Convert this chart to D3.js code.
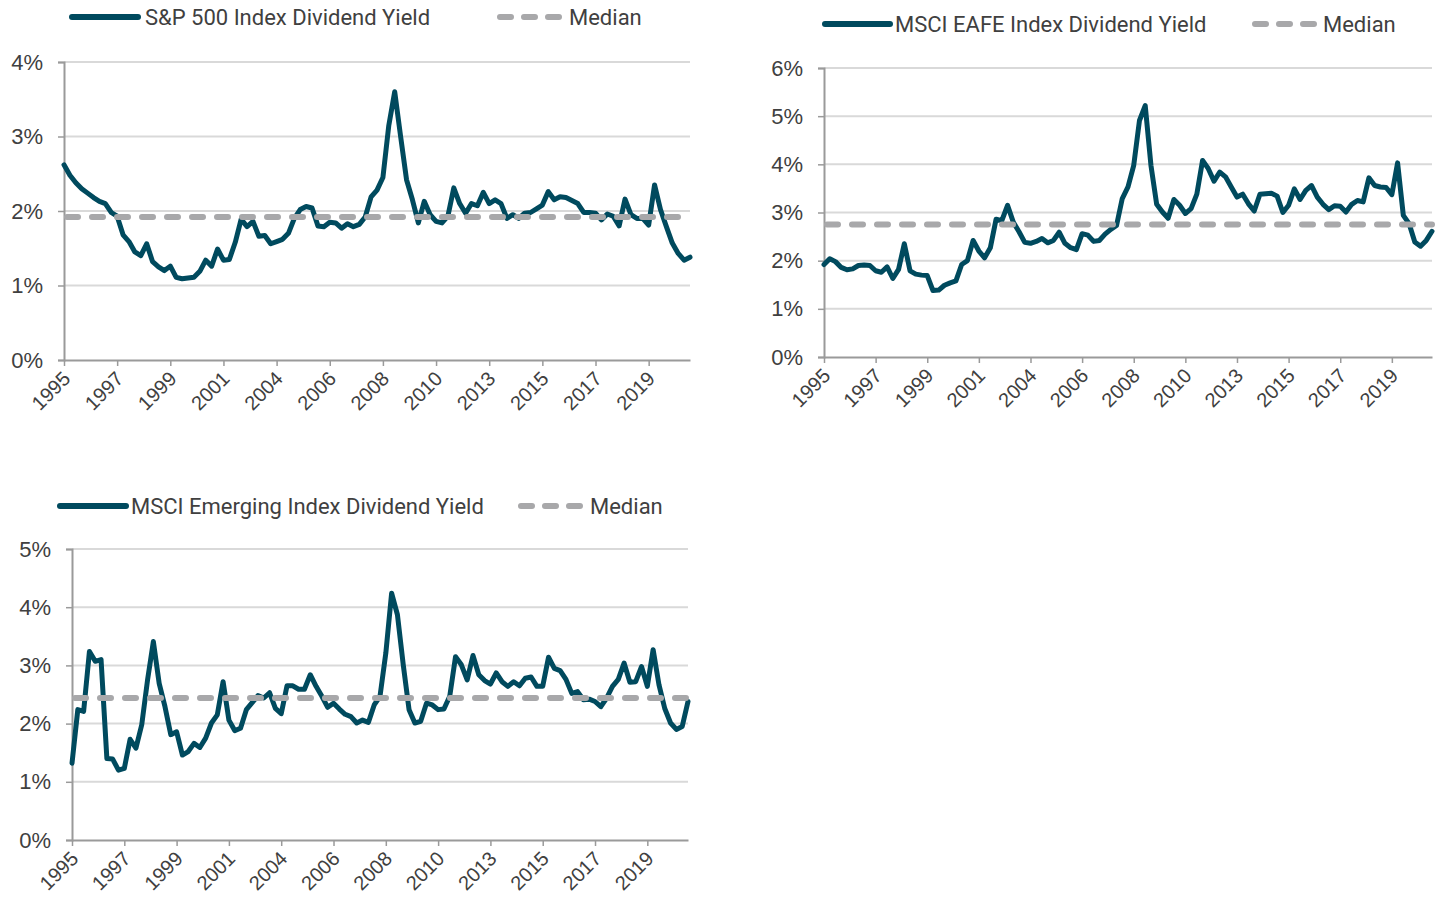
<!DOCTYPE html>
<html><head><meta charset="utf-8">
<script src="https://cdn.jsdelivr.net/npm/d3@7"></script>
<style>body{margin:0;background:#fff} svg{display:block}</style>
</head><body><svg id="c" width="1442" height="907"></svg>
<script>
// quarterly observations, 1995 Q1 onward
const yearLabels = ["1995","1997","1999","2001","2004","2006","2008","2010","2013","2015","2017","2019"];
const spYield = [2.62,2.48,2.38,2.30,2.24,2.18,2.13,2.10,1.98,1.93,1.68,1.59,1.45,1.40,1.56,1.32,1.25,1.20,1.26,1.11,
  1.09,1.10,1.11,1.19,1.34,1.26,1.49,1.34,1.35,1.58,1.89,1.79,1.86,1.66,1.67,1.56,1.59,1.62,1.70,1.90,
  2.02,2.06,2.04,1.80,1.79,1.85,1.84,1.77,1.83,1.79,1.82,1.92,2.19,2.28,2.45,3.15,3.60,3.00,2.42,2.15,
  1.84,2.13,1.95,1.86,1.84,1.93,2.31,2.10,1.97,2.10,2.07,2.25,2.10,2.15,2.10,1.90,1.95,1.90,1.97,1.98,
  2.03,2.08,2.26,2.15,2.19,2.18,2.14,2.10,1.98,1.98,1.97,1.88,1.96,1.93,1.80,2.16,1.95,1.90,1.90,1.81,
  2.35,2.02,1.79,1.57,1.43,1.34,1.38];
const eafeYield = [1.92,2.04,1.98,1.86,1.81,1.83,1.90,1.91,1.90,1.79,1.76,1.87,1.63,1.82,2.35,1.79,1.72,1.70,1.69,1.38,
  1.39,1.49,1.54,1.58,1.92,2.00,2.42,2.20,2.06,2.27,2.86,2.83,3.15,2.80,2.60,2.38,2.36,2.40,2.46,2.37,
  2.42,2.59,2.36,2.27,2.23,2.56,2.53,2.40,2.42,2.55,2.65,2.73,3.29,3.53,3.98,4.91,5.22,3.98,3.17,3.01,
  2.88,3.27,3.15,2.98,3.08,3.38,4.08,3.91,3.65,3.84,3.74,3.53,3.32,3.38,3.18,3.03,3.38,3.39,3.40,3.34,
  3.00,3.15,3.49,3.27,3.46,3.56,3.32,3.17,3.06,3.14,3.13,3.01,3.17,3.25,3.22,3.72,3.56,3.53,3.52,3.37,
  4.03,2.94,2.77,2.39,2.30,2.42,2.61];
const emYield = [1.32,2.24,2.21,3.24,3.07,3.10,1.40,1.39,1.20,1.23,1.73,1.58,1.98,2.75,3.41,2.69,2.29,1.81,1.86,1.46,
  1.52,1.66,1.59,1.75,2.01,2.15,2.72,2.06,1.88,1.92,2.24,2.36,2.48,2.44,2.53,2.26,2.17,2.65,2.65,2.59,
  2.59,2.84,2.64,2.47,2.28,2.35,2.25,2.16,2.12,2.01,2.06,2.02,2.32,2.47,3.21,4.24,3.87,3.01,2.24,2.01,
  2.04,2.35,2.32,2.24,2.25,2.47,3.15,3.01,2.75,3.17,2.84,2.74,2.68,2.87,2.72,2.64,2.72,2.65,2.78,2.80,
  2.64,2.64,3.14,2.95,2.91,2.76,2.52,2.55,2.41,2.42,2.38,2.29,2.44,2.64,2.76,3.04,2.71,2.72,2.98,2.64,
  3.27,2.67,2.26,2.01,1.90,1.95,2.38];
const medians = [1.92, 2.75, 2.44];
const seriesNames = ["S&P 500 Index Dividend Yield","MSCI EAFE Index Dividend Yield","MSCI Emerging Index Dividend Yield"];
const medianLabel = "Median";
const yMaxes = [4, 6, 5];
const tickEvery = 9;

const LINE = "#004a5e", MED = "#a8a8aa", GRID = "#d9d9d9", AXIS = "#9a9a9a", TXT = "#404040";
const layouts = [
  {left:64, right:690, top:62, bottom:360, ly:17, l0:72, l1:138, lt:145, m0:500, m1:562, mt:569},
  {left:824, right:1432, top:68, bottom:357, ly:24, l0:825, l1:890, lt:895, m0:1255, m1:1317, mt:1323},
  {left:72, right:688, top:549, bottom:840, ly:506, l0:60, l1:126, lt:131, m0:521, m1:583, mt:590}
];
const allSeries = [spYield, eafeYield, emYield];
const svg = d3.select("#c");

allSeries.forEach((data, k) => {
  const L = layouts[k];
  const g = svg.append("g");
  const x = d3.scaleLinear().domain([0, data.length - 1]).range([L.left, L.right]);
  const y = d3.scaleLinear().domain([0, yMaxes[k]]).range([L.bottom, L.top]);
  const yTicks = d3.range(0, yMaxes[k] + 1);

  // gridlines
  g.append("g").selectAll("line").data(yTicks.filter(d => d > 0)).join("line")
    .attr("x1", L.left).attr("x2", L.right).attr("y1", d => y(d)).attr("y2", d => y(d))
    .attr("stroke", GRID).attr("stroke-width", 2);

  // y axis
  const ya = g.append("g").attr("transform", `translate(${L.left},0)`)
    .call(d3.axisLeft(y).tickValues(yTicks).tickFormat(d => d + "%").tickSize(6).tickPadding(15));
  ya.select(".domain").attr("stroke", AXIS).attr("stroke-width", 2);
  ya.selectAll(".tick line").attr("stroke", AXIS).attr("stroke-width", 1.5);
  ya.selectAll("text").attr("fill", TXT)
    .style("font-family", "'Liberation Sans', Arial, sans-serif").style("font-size", "22px");

  // x axis
  const tv = yearLabels.map((_, i) => i * tickEvery);
  const xa = g.append("g").attr("transform", `translate(0,${L.bottom})`)
    .call(d3.axisBottom(x).tickValues(tv).tickFormat((d, i) => yearLabels[i]).tickSize(6).tickSizeOuter(0));
  xa.select(".domain").attr("stroke", AXIS).attr("stroke-width", 2);
  xa.selectAll(".tick line").attr("stroke", AXIS).attr("stroke-width", 1.5);
  xa.selectAll("text").attr("fill", TXT).attr("x", 0).attr("y", 0).attr("dy", 0)
    .attr("text-anchor", "end").attr("transform", "translate(7,20) rotate(-45)")
    .style("font-family", "'Liberation Sans', Arial, sans-serif").style("font-size", "20px");

  // series line
  g.append("path").datum(data)
    .attr("d", d3.line().x((d, i) => x(i)).y(d => y(d)))
    .attr("fill", "none").attr("stroke", LINE).attr("stroke-width", 5)
    .attr("stroke-linejoin", "round").attr("stroke-linecap", "round");

  // median line
  g.append("line").attr("x1", L.left + 3).attr("x2", L.right).attr("y1", y(medians[k])).attr("y2", y(medians[k]))
    .attr("stroke", MED).attr("stroke-width", 6).attr("stroke-dasharray", "11,14").attr("stroke-linecap", "round");

  // legend
  const lg = g.append("g");
  lg.append("line").attr("x1", L.l0).attr("x2", L.l1).attr("y1", L.ly).attr("y2", L.ly)
    .attr("stroke", LINE).attr("stroke-width", 6).attr("stroke-linecap", "round");
  lg.append("text").attr("x", L.lt).attr("y", L.ly).attr("dy", "0.36em").text(seriesNames[k])
    .attr("fill", TXT).style("font-family", "Roboto").style("font-size", "22px");
  lg.append("line").attr("x1", L.m0).attr("x2", L.m1).attr("y1", L.ly).attr("y2", L.ly)
    .attr("stroke", MED).attr("stroke-width", 6).attr("stroke-dasharray", "11,13").attr("stroke-linecap", "round");
  lg.append("text").attr("x", L.mt).attr("y", L.ly).attr("dy", "0.36em").text(medianLabel)
    .attr("fill", TXT).style("font-family", "Roboto").style("font-size", "22px");
});
</script></body></html>
